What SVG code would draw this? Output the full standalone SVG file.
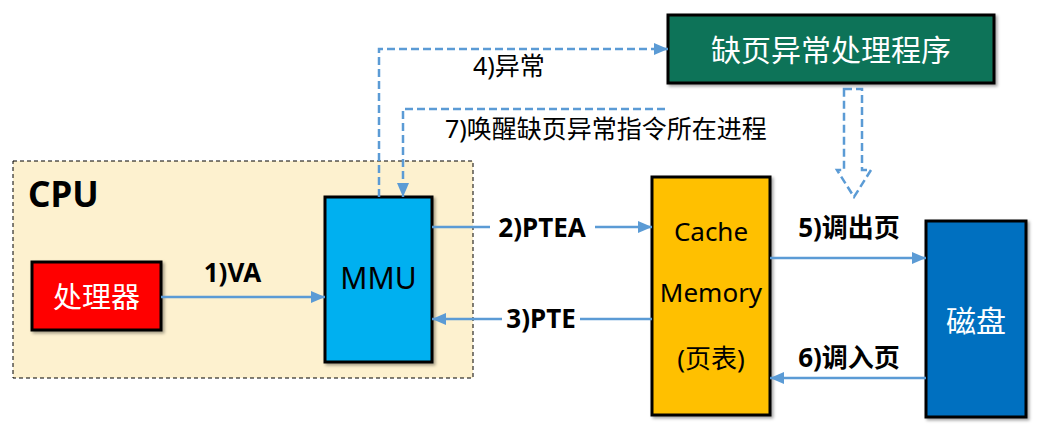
<svg xmlns="http://www.w3.org/2000/svg" width="1040" height="428" viewBox="0 0 1040 428">
<style>
text{font-family:"Noto Sans","Noto Sans CJK SC",sans-serif;}
.box{stroke:#000;stroke-width:3;filter:url(#sh);}
.conn{stroke:#5B9BD5;stroke-width:2.5;fill:none;}
.dash{stroke-dasharray:8 4;}
.lbl{font-size:26px;font-weight:bold;fill:#000;}
.note{font-size:25px;fill:#000;}
.wt{fill:#fff;}
</style>
<defs>
<filter id="sh" x="-10%" y="-10%" width="130%" height="130%">
<feDropShadow dx="2" dy="2" stdDeviation="1.5" flood-color="#000" flood-opacity="0.35"/>
</filter>
<marker id="ah" markerUnits="userSpaceOnUse" markerWidth="14" markerHeight="12" refX="14" refY="6" orient="auto">
<path d="M0,0 L14,6 L0,12 z" fill="#5B9BD5"/>
</marker>
</defs>
<g id="cpu">
<rect x="13" y="161" width="460" height="217" fill="#FDF1CF" stroke="#000" stroke-width="1" stroke-dasharray="4 3"/>
<text x="28" y="207" style="font-size:35px;font-weight:bold">CPU</text>
</g>
<g id="processor">
<rect class="box" x="32" y="262" width="129" height="68" fill="#FF0000"/>
<text class="wt" x="96.5" y="296" text-anchor="middle" dominant-baseline="central" style="font-size:29px">处理器</text>
</g>
<g id="mmu">
<rect class="box" x="325" y="197" width="107" height="165" fill="#00B0F0"/>
<text x="378.5" y="289" text-anchor="middle" style="font-size:30px">MMU</text>
</g>
<g id="handler">
<rect class="box" x="668" y="15" width="326" height="68" fill="#107358"/>
<text class="wt" x="831" y="49" text-anchor="middle" dominant-baseline="central" style="font-size:30px">缺页异常处理程序</text>
</g>
<g id="cache">
<rect class="box" x="652" y="177" width="118" height="238" fill="#FFC000"/>
<text x="711" y="241" text-anchor="middle" style="font-size:26px">Cache</text>
<text x="711" y="302" text-anchor="middle" style="font-size:26px">Memory</text>
<text x="711" y="358" text-anchor="middle" dominant-baseline="central" style="font-size:26px">(页表)</text>
</g>
<g id="disk">
<rect class="box" x="926" y="221" width="100" height="196" fill="#0070C0"/>
<text class="wt" x="976" y="320" text-anchor="middle" dominant-baseline="central" style="font-size:30px">磁盘</text>
</g>
<g id="connectors">
<line class="conn" x1="161" y1="297" x2="325" y2="297" marker-end="url(#ah)"/>
<text class="lbl" x="232.5" y="282" text-anchor="middle">1)VA</text>
<line class="conn" x1="432" y1="227" x2="490" y2="227"/>
<line class="conn" x1="595" y1="227" x2="652" y2="227" marker-end="url(#ah)"/>
<text class="lbl" x="542" y="237" text-anchor="middle">2)PTEA</text>
<line class="conn" x1="652" y1="319" x2="580" y2="319"/>
<line class="conn" x1="502" y1="319" x2="432" y2="319" marker-end="url(#ah)"/>
<text class="lbl" x="541" y="328" text-anchor="middle">3)PTE</text>
<polyline class="conn dash" points="379,197 379,49 668,49" marker-end="url(#ah)"/>
<text class="note" x="473" y="75">4)异常</text>
<polyline class="conn dash" points="665,109 403,109 403,197" marker-end="url(#ah)"/>
<text class="note" x="445" y="138">7)唤醒缺页异常指令所在进程</text>
<path class="dash" d="M844,89 L862,89 L862,170 L871,170 L854,197 L837,170 L844,170 Z" fill="#fff" stroke="#5B9BD5" stroke-width="2.5"/>
<line class="conn" x1="770" y1="258" x2="926" y2="258" marker-end="url(#ah)"/>
<text class="lbl" x="849" y="237" text-anchor="middle">5)调出页</text>
<line class="conn" x1="926" y1="378" x2="770" y2="378" marker-end="url(#ah)"/>
<text class="lbl" x="849" y="367" text-anchor="middle">6)调入页</text>
</g>
</svg>
